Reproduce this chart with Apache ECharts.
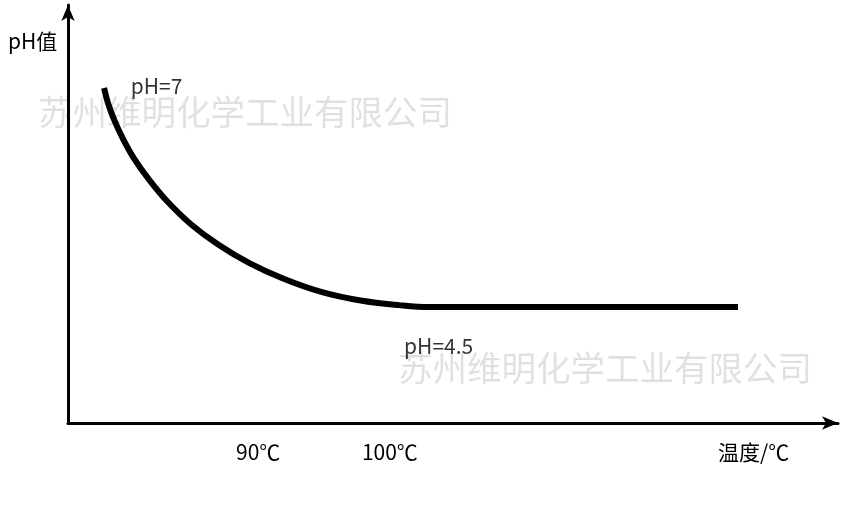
<!DOCTYPE html>
<html><head><meta charset="utf-8">
<script src="https://cdn.jsdelivr.net/npm/echarts@6/dist/echarts.min.js"></script>
<style>html,body{margin:0;background:#fff}#c{width:850px;height:509px}</style>
</head><body><div id="c"></div>
<script>
const curveX = [4.68, 5.2, 6.0, 7.0, 8.5, 10.5, 13.0, 16.0, 19.5, 23.5, 28.0, 33.0, 38.0, 43.0, 47.0, 87.01];
const curveY = [80.14, 76.5, 72.5, 68.5, 63.5, 58.3, 52.8, 47.5, 42.7, 38.3, 34.5, 31.3, 29.3, 28.2, 27.75, 27.75];
const tickLabels = [{x: 24.7, text: '90℃'}, {x: 41.8, text: '100℃'}];
const pointLabels = [{x: 7.5, y: 80.5, text: 'pH=7'}, {x: 43, y: 18.5, text: 'pH=4.5'}];
const watermark = '苏州维明化学工业有限公司';
const chart = echarts.init(document.getElementById('c'));
const font = 'Noto Sans CJK SC';
chart.setOption({
  animation: false,
  grid: {left: 68, right: 12, top: 5, bottom: 86},
  xAxis: {type: 'value', min: 0, max: 100, splitLine: {show: false}, axisTick: {show: false}, axisLabel: {show: false},
    axisLine: {lineStyle: {color: '#000', width: 3}, symbol: ['none', 'arrow'], symbolSize: [10, 16]}},
  yAxis: {type: 'value', min: 0, max: 100, splitLine: {show: false}, axisTick: {show: false}, axisLabel: {show: false},
    axisLine: {lineStyle: {color: '#000', width: 3}, symbol: ['none', 'arrow'], symbolSize: [10, 16]}},
  series: [
    {type: 'line', smooth: 0.4, symbol: 'none', data: curveX.map((x, i) => [x, curveY[i]]),
      lineStyle: {color: '#000', width: 6}},
    {type: 'scatter', symbolSize: 0, data: pointLabels.map(t => ({value: [t.x, t.y], name: t.text})),
      label: {show: true, position: 'right', formatter: p => p.name, color: '#000', fontSize: 21, fontFamily: font}}
  ]
});
const g = [
  {type: 'text', left: 8, top: 31, style: {text: 'pH值', font: '21px ' + font, fill: '#000'}},
  {type: 'text', left: 718, top: 442, style: {text: '温度/℃', font: '21px ' + font, fill: '#000'}},
  {type: 'text', left: 38, top: 95, style: {text: watermark, font: '34.5px ' + font, fill: 'rgba(0,0,0,0.12)'}},
  {type: 'text', left: 398, top: 351, style: {text: watermark, font: '34.5px ' + font, fill: 'rgba(0,0,0,0.12)'}}
];
tickLabels.forEach(t => {
  const px = chart.convertToPixel({xAxisIndex: 0}, t.x);
  g.push({type: 'text', x: px, y: 452, style: {text: t.text, font: '21px ' + font, fill: '#000', align: 'center', verticalAlign: 'middle'}});
});
chart.setOption({graphic: g});
</script></body></html>
